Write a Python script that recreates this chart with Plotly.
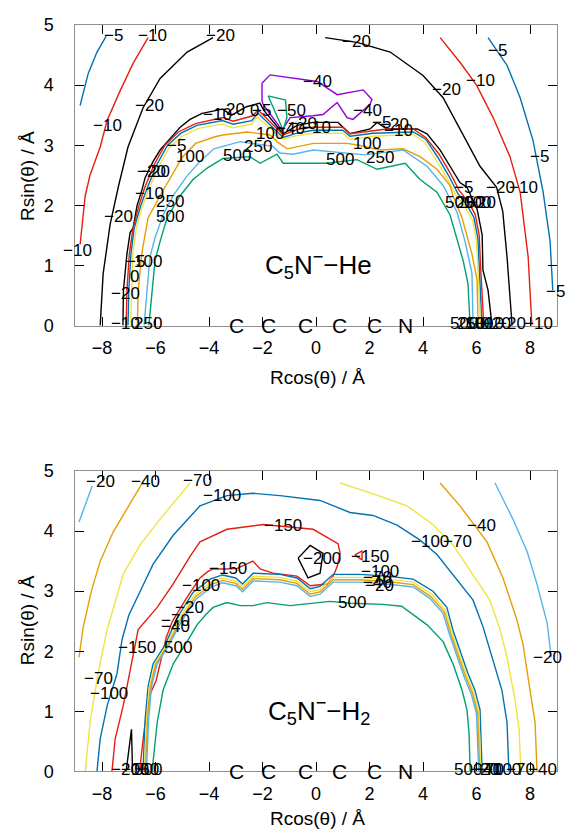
import plotly.graph_objects as go

# ---------------- colours (gnuplot default cycle) ----------------
PURPLE, GREEN, LBLUE, ORANGE = "#9400d3", "#009e73", "#56b4e9", "#e69f00"
YELLOW, BLUE, RED, BLACK = "#f0e442", "#0072b2", "#e51e10", "#000000"

# ---------------- C5N- - He : contour paths (x = Rcos, y = Rsin, Angstrom) ----------------
HE_M5_L = [(-8.82, 3.66), (-8.52, 4.19), (-8.19, 4.55), (-7.85, 4.81)]
HE_M5_R = [(6.43, 4.79), (7.14, 4.33), (7.63, 3.79), (8.11, 3.08), (8.49, 2.22), (8.75, 1.4), (8.85, 0.59)]
HE_M10_L = [(-8.82, 1.35), (-8.63, 2.16), (-8.45, 2.5), (-8.07, 2.97), (-7.81, 3.41), (-7.33, 3.9), (-6.84, 4.36), (-6.28, 4.79)]
HE_M10_R = [(4.64, 4.79), (5.38, 4.38), (6.0, 4.0), (6.62, 3.46), (7.25, 2.81), (7.63, 2.22), (7.93, 1.14), (8.07, 0.0)]
HE_M20_L = [(-8.07, 0.0), (-7.96, 0.86), (-7.7, 1.68), (-7.38, 2.33), (-7.03, 2.97), (-6.47, 3.62), (-5.83, 4.11), (-4.82, 4.55), (-3.85, 4.79)]
HE_M20_R = [(0.34, 4.79), (1.53, 4.71), (2.77, 4.55), (4.0, 4.16), (4.75, 3.79), (5.46, 3.19), (6.13, 2.65), (6.75, 2.3), (6.98, 1.9), (7.14, 1.14), (7.33, 0.0)]
HE_M20_IN = [(-7.22, 0.0), (-7.2, 0.59), (-7.07, 1.19), (-6.95, 1.55), (-6.84, 1.62), (-6.69, 2.0), (-6.5, 2.27),
             (-6.39, 2.46), (-6.09, 2.73), (-5.83, 2.92), (-5.46, 3.11), (-5.08, 3.3), (-4.71, 3.43), (-4.26, 3.53),
             (-3.5, 3.6), (-3.15, 3.5), (-2.6, 3.64), (-2.1, 3.7), (-1.95, 3.58), (-1.23, 3.19), (-0.71, 3.33),
             (-0.11, 3.38), (0.82, 3.38), (1.27, 3.19), (2.02, 3.27), (2.28, 3.38), (2.65, 3.27), (3.78, 3.27),
             (4.15, 3.19), (4.64, 2.92), (5.01, 2.65), (5.38, 2.38), (5.64, 2.3), (6.02, 1.94), (6.21, 1.51),
             (6.24, 0.92), (6.43, 0.59), (6.58, 0.0)]
HE_M10_IN = [(-7.1, 0.0), (-7.07, 0.59), (-6.98, 1.19), (-6.85, 1.6), (-6.62, 2.0), (-6.4, 2.3), (-6.05, 2.68),
             (-5.65, 3.0), (-5.15, 3.22), (-4.5, 3.36), (-3.48, 3.46), (-3.1, 3.4), (-2.36, 3.49), (-2.17, 3.59),
             (-1.23, 3.17), (-0.71, 3.26), (-0.11, 3.3), (1.0, 3.3), (1.27, 3.19), (2.13, 3.24), (2.65, 3.27),
             (3.63, 3.27), (4.1, 3.13), (4.6, 2.85), (5.0, 2.55), (5.35, 2.25), (5.7, 2.05), (5.95, 1.85),
             (6.1, 1.5), (6.15, 1.0), (6.2, 0.5), (6.27, 0.0)]
HE_M5_IN = [(-7.03, 0.0), (-7.0, 0.59), (-6.92, 1.19), (-6.8, 1.62), (-6.55, 2.0), (-6.3, 2.3), (-5.95, 2.68),
            (-5.55, 3.0), (-5.05, 3.2), (-4.45, 3.33), (-3.5, 3.41), (-3.1, 3.35), (-2.4, 3.41), (-2.17, 3.53),
            (-1.23, 3.13), (-0.71, 3.2), (-0.11, 3.25), (1.0, 3.25), (1.27, 3.15), (2.13, 3.2), (3.63, 3.22),
            (4.1, 3.1), (4.55, 2.8), (4.95, 2.5), (5.3, 2.2), (5.65, 2.0), (5.9, 1.8), (6.05, 1.45),
            (6.1, 1.0), (6.15, 0.5), (6.2, 0.0)]
HE_0 = [(-6.93, 0.0), (-6.9, 0.59), (-6.85, 1.19), (-6.72, 1.62), (-6.48, 2.0), (-6.22, 2.3), (-5.88, 2.65),
        (-5.5, 2.95), (-5.0, 3.15), (-4.4, 3.28), (-3.5, 3.35), (-3.1, 3.29), (-2.4, 3.35), (-2.2, 3.47),
        (-1.23, 3.1), (-0.71, 3.16), (-0.11, 3.2), (1.0, 3.2), (1.27, 3.1), (2.13, 3.15), (3.63, 3.18),
        (4.05, 3.05), (4.5, 2.75), (4.9, 2.45), (5.25, 2.15), (5.6, 1.95), (5.85, 1.75), (6.0, 1.4),
        (6.05, 1.0), (6.1, 0.5), (6.15, 0.0)]
HE_100 = [(-6.68, 0.0), (-6.65, 0.59), (-6.5, 1.24), (-6.28, 1.79), (-5.83, 2.16), (-5.46, 2.45), (-5.0, 2.8),
          (-4.5, 3.03), (-3.78, 3.14), (-3.48, 3.17), (-2.58, 3.22), (-1.72, 3.17), (-1.46, 3.06), (-1.08, 2.94),
          (-0.1, 3.03), (1.16, 3.03), (1.6, 3.0), (2.39, 2.92), (3.25, 2.94), (3.89, 2.81), (4.52, 2.6),
          (5.01, 2.33), (5.12, 2.16), (5.46, 1.79), (5.64, 1.51), (5.83, 1.19), (6.02, 0.76), (6.06, 0.0)]
HE_250 = [(-6.43, 0.0), (-6.32, 0.59), (-6.21, 1.14), (-6.02, 1.46), (-5.72, 1.84), (-5.34, 2.16), (-4.82, 2.49),
          (-4.34, 2.73), (-3.82, 2.94), (-2.84, 3.06), (-1.61, 2.98), (-1.35, 2.87), (-0.86, 2.85), (-0.1, 2.92),
          (1.0, 2.88), (1.83, 2.84), (3.25, 2.92), (4.15, 2.65), (4.75, 2.33), (5.27, 1.89), (5.57, 1.4),
          (5.83, 0.87), (5.87, 0.0)]
HE_500 = [(-6.25, 0.0), (-6.13, 0.59), (-6.02, 1.08), (-5.83, 1.4), (-5.57, 1.79), (-5.08, 2.16), (-4.6, 2.43),
          (-4.07, 2.62), (-3.48, 2.78), (-2.47, 2.81), (-2.09, 2.7), (-1.46, 2.85), (-1.23, 2.7), (0.4, 2.7),
          (1.53, 2.76), (2.28, 2.6), (3.33, 2.7), (3.89, 2.43), (4.52, 2.22), (5.01, 1.84), (5.31, 1.4),
          (5.5, 1.08), (5.68, 0.7), (5.76, 0.0)]
HE_M40 = [(-2.02, 4.03), (-1.72, 4.17), (0.04, 4.06), (0.79, 3.84), (1.76, 3.92), (2.09, 3.76), (2.02, 3.68),
          (1.38, 3.43), (1.16, 3.46), (0.79, 3.71), (0.26, 3.51), (-0.11, 3.49), (-0.97, 3.46), (-1.27, 3.25),
          (-1.98, 3.68), (-2.02, 3.74), (-2.02, 4.03)]
HE_M50 = [(-1.79, 3.82), (-1.14, 3.75), (-1.09, 3.46), (-1.23, 3.25), (-1.79, 3.82)]

HE_PATHS = [(HE_M5_L, BLUE), (HE_M5_R, BLUE), (HE_M10_L, RED), (HE_M10_R, RED),
            (HE_M20_L, BLACK), (HE_M20_R, BLACK), (HE_M20_IN, BLACK), (HE_M10_IN, RED),
            (HE_M5_IN, BLUE), (HE_0, YELLOW), (HE_100, ORANGE), (HE_250, LBLUE), (HE_500, GREEN),
            (HE_M40, PURPLE), (HE_M50, GREEN)]

HE_LABELS = [("−5", -7.59, 4.83), ("−10", -6.13, 4.83), ("−20", -3.59, 4.83), ("−20", -6.21, 3.66),
             ("−10", -7.78, 3.33), ("−20", -7.4, 1.81), ("−10", -8.9, 1.25), ("−5", -5.2, 3.0),
             ("100", -4.71, 2.81), ("500", -2.95, 2.83), ("250", -2.17, 2.98), ("100", -1.72, 3.19),
             ("−20", -6.15, 2.56), ("−20", -6.0, 2.56), ("−10", -6.21, 2.19), ("250", -5.46, 2.06),
             ("500", -5.46, 1.81), ("−5", -6.75, 1.06), ("100", -6.3, 1.06), ("0", -6.77, 0.82),
             ("−20", -7.14, 0.54), ("−10", -7.14, 0.03), ("250", -6.28, 0.03),
             ("−10", -3.7, 3.51), ("−20", -3.21, 3.6), ("0", -2.3, 3.58), ("−5", -2.05, 3.58),
             ("−50", -0.9, 3.57), ("−40", 0.07, 4.06), ("−40", 1.94, 3.57), ("−40", -0.97, 3.27),
             ("−20", -0.49, 3.36), ("−10", 0.03, 3.3), ("100", 1.91, 3.03), ("500", 0.9, 2.76),
             ("250", 2.39, 2.8), ("−5", 2.45, 3.38), ("−20", 2.95, 3.35), ("−10", 3.1, 3.25),
             ("−20", 1.53, 4.73), ("−20", 4.89, 3.92), ("−10", 6.13, 4.08), ("−5", 6.8, 4.57),
             ("−5", 8.37, 2.81), ("−5", 5.5, 2.3), ("−20", 6.88, 2.29), ("−10", 7.74, 2.29),
             ("500", 5.35, 2.05), ("250", 5.75, 2.05), ("100", 6.0, 2.05), ("−20", 6.2, 2.05),
             ("−5", 8.95, 0.57), ("500", 5.55, 0.03), ("250", 5.8, 0.03), ("100", 6.1, 0.03),
             ("0", 6.3, 0.03), ("−10", 6.5, 0.03), ("−20", 6.75, 0.03), ("−20", 7.3, 0.03), ("−10", 8.3, 0.03)]

# ---------------- C5N- - H2 : contour paths ----------------
H2_M20_L = [(-8.86, 4.15), (-8.6, 4.48), (-8.37, 4.75)]
H2_M20_R = [(6.69, 4.8), (7.36, 4.2), (7.89, 3.66), (8.26, 3.12), (8.64, 2.47), (8.79, 1.9)]
H2_M40_L = [(-8.86, 1.9), (-8.71, 2.39), (-8.4, 3.0), (-8.07, 3.5), (-7.59, 3.98), (-7.07, 4.36), (-6.47, 4.82)]
H2_M40_R = [(4.64, 4.8), (5.38, 4.42), (6.39, 3.82), (6.99, 3.22), (7.51, 2.52), (7.74, 2.11), (8.0, 1.35),
            (8.19, 0.81), (8.26, 0.0)]
H2_M70_L = [(-8.63, 0.0), (-8.45, 0.81), (-8.15, 1.63), (-7.81, 2.36), (-7.21, 3.28), (-6.58, 3.77),
            (-5.83, 4.2), (-4.71, 4.8)]
H2_M70_R = [(0.9, 4.8), (2.28, 4.6), (3.4, 4.42), (4.37, 4.11), (5.12, 3.77), (5.87, 3.28), (6.5, 2.85),
            (6.88, 2.36), (7.14, 1.9), (7.44, 1.19), (7.59, 0.7), (7.66, 0.0)]
H2_M100 = [(-8.19, 0.0), (-8.07, 0.54), (-7.81, 1.09), (-7.44, 1.63), (-7.25, 2.2), (-7.0, 2.6), (-6.69, 2.89),
           (-6.09, 3.45), (-5.34, 3.93), (-4.34, 4.42), (-3.33, 4.59), (-2.36, 4.63), (-1.35, 4.59), (0.15, 4.51),
           (1.27, 4.31), (2.13, 4.26), (3.03, 4.1), (3.89, 3.85), (4.52, 3.61), (5.12, 3.28), (5.87, 2.85),
           (6.24, 2.41), (6.62, 1.84), (6.95, 1.35), (7.14, 0.81), (7.21, 0.0)]
H2_M150 = [(-7.63, 0.0), (-7.51, 0.54), (-7.21, 1.09), (-6.84, 1.9), (-6.65, 2.36), (-5.94, 2.73), (-5.34, 3.12),
           (-4.71, 3.58), (-4.34, 3.82), (-3.33, 4.03), (-1.98, 4.11), (-0.11, 4.03), (0.41, 3.9), (0.82, 3.79),
           (0.9, 3.63), (0.79, 3.41), (0.64, 3.25), (0.41, 3.12), (-0.22, 3.09), (-0.71, 3.25), (-1.61, 3.3),
           (-2.09, 3.37), (-2.36, 3.5), (-2.95, 3.38), (-3.33, 3.37), (-3.85, 3.37), (-4.04, 3.33), (-4.34, 3.22),
           (-4.85, 2.88), (-5.38, 2.49), (-5.6, 2.23), (-5.8, 1.84), (-5.98, 1.51), (-6.24, 1.25), (-6.42, 0.7),
           (-6.6, 0.0)]
H2_M150_B = [(1.45, 3.6), (1.72, 3.67), (1.72, 3.52), (1.45, 3.6)]
H2_M200 = [(-0.67, 3.55), (-0.22, 3.76), (0.26, 3.63), (0.15, 3.3), (-0.3, 3.22), (-0.67, 3.55)]
H2_M200_B = [(-7.1, 0.0), (-6.9, 0.7), (-6.86, 0.0)]
H2_M100_IN = [(-6.47, 0.0), (-6.39, 0.86), (-6.28, 1.41), (-6.09, 1.79), (-5.64, 2.11), (-5.2, 2.55), (-4.6, 2.98),
              (-3.96, 3.2), (-3.5, 3.27), (-3.0, 3.22), (-2.75, 3.12), (-2.35, 3.3), (-1.35, 3.28), (-0.71, 3.22),
              (-0.22, 3.04), (0.15, 3.08), (0.64, 3.28), (1.64, 3.28), (2.65, 3.25), (3.63, 3.2), (4.37, 3.0),
              (4.89, 2.73), (5.12, 2.35), (5.46, 1.9), (5.68, 1.63), (5.94, 1.35), (6.13, 1.03), (6.21, 0.0)]
H2_M70_IN = [(-6.42, 0.0), (-6.34, 0.86), (-6.23, 1.41), (-6.03, 1.79), (-5.58, 2.11), (-5.14, 2.52), (-4.56, 2.93),
             (-3.94, 3.15), (-3.5, 3.22), (-3.0, 3.17), (-2.75, 3.07), (-2.35, 3.25), (-1.35, 3.23), (-0.71, 3.17),
             (-0.22, 2.99), (0.15, 3.03), (0.64, 3.23), (1.64, 3.23), (2.65, 3.2), (3.63, 3.15), (4.33, 2.95),
             (4.83, 2.69), (5.07, 2.32), (5.41, 1.87), (5.63, 1.6), (5.89, 1.32), (6.08, 1.0), (6.16, 0.0)]
H2_M40_IN = [(-6.38, 0.0), (-6.3, 0.86), (-6.19, 1.41), (-5.98, 1.79), (-5.53, 2.11), (-5.09, 2.5), (-4.52, 2.9),
             (-3.92, 3.11), (-3.5, 3.18), (-3.0, 3.13), (-2.75, 3.03), (-2.35, 3.21), (-1.35, 3.19), (-0.71, 3.13),
             (-0.22, 2.95), (0.15, 2.99), (0.64, 3.19), (1.64, 3.19), (2.65, 3.16), (3.63, 3.11), (4.29, 2.91),
             (4.79, 2.66), (5.03, 2.3), (5.37, 1.85), (5.59, 1.58), (5.85, 1.3), (6.04, 0.98), (6.12, 0.0)]
H2_M20_IN = [(-6.34, 0.0), (-6.26, 0.86), (-6.15, 1.41), (-5.94, 1.79), (-5.49, 2.11), (-5.05, 2.48), (-4.48, 2.87),
             (-3.9, 3.07), (-3.5, 3.14), (-3.0, 3.09), (-2.75, 2.99), (-2.35, 3.17), (-1.35, 3.15), (-0.71, 3.09),
             (-0.22, 2.91), (0.15, 2.95), (0.64, 3.15), (1.64, 3.15), (2.65, 3.12), (3.63, 3.07), (4.25, 2.88),
             (4.75, 2.63), (4.99, 2.28), (5.33, 1.83), (5.55, 1.56), (5.81, 1.28), (6.0, 0.96), (6.08, 0.0)]
H2_500 = [(-6.13, 0.0), (-5.94, 0.81), (-5.72, 1.35), (-5.34, 1.79), (-4.82, 2.16), (-4.45, 2.44), (-4.1, 2.62),
          (-3.85, 2.73), (-3.33, 2.81), (-2.84, 2.76), (-2.36, 2.76), (-1.83, 2.81), (-0.97, 2.76), (-0.22, 2.79),
          (0.52, 2.83), (1.3, 2.8), (2.5, 2.78), (3.2, 2.75), (3.8, 2.55), (4.15, 2.44), (4.75, 2.16),
          (5.12, 1.79), (5.46, 1.35), (5.64, 1.03), (5.72, 0.65), (5.76, 0.0)]

H2_PATHS = [(H2_M20_L, LBLUE), (H2_M20_R, LBLUE), (H2_M40_L, ORANGE), (H2_M40_R, ORANGE),
            (H2_M70_L, YELLOW), (H2_M70_R, YELLOW), (H2_M100, BLUE), (H2_M150, RED), (H2_M150_B, RED),
            (H2_M200, BLACK), (H2_M200_B, BLACK), (H2_M100_IN, BLUE), (H2_M70_IN, YELLOW),
            (H2_M40_IN, ORANGE), (H2_M20_IN, LBLUE), (H2_500, GREEN)]

H2_LABELS = [("−20", -8.07, 4.82), ("−40", -6.39, 4.83), ("−70", -4.45, 4.85), ("−100", -3.52, 4.59),
             ("−150", -1.23, 4.1), ("−100", 4.26, 3.82), ("−70", 5.27, 3.82), ("−40", 6.2, 4.1),
             ("−20", 8.67, 1.9), ("−200", 0.22, 3.54), ("−150", 2.02, 3.58), ("−100", 2.39, 3.33),
             ("−70", 2.28, 3.22), ("−40", 2.3, 3.15), ("−20", 2.39, 3.09), ("500", 1.35, 2.81),
             ("−150", -3.29, 3.37), ("−100", -4.3, 3.09), ("−20", -4.72, 2.73), ("−70", -5.27, 2.52),
             ("−40", -5.27, 2.41), ("−150", -6.69, 2.06), ("500", -5.16, 2.06), ("−70", -8.15, 1.54),
             ("−100", -7.74, 1.3), ("−200", -6.95, 0.03), ("−150", -6.6, 0.03), ("500", -6.3, 0.03),
             ("500", 5.68, 0.03), ("−20", 6.3, 0.03), ("−40", 6.4, 0.03), ("−70", 6.5, 0.03),
             ("−100", 6.95, 0.03), ("−70", 7.63, 0.03), ("−40", 8.45, 0.03)]

# atoms drawn on the molecular axis
ATOM_LABELS = ["C", "C", "C", "C", "C", "N"]
ATOM_X = [-2.99, -1.76, -0.41, 0.86, 2.2, 3.36]

TITLES = ["C<sub>5</sub>N<sup>−</sup>−He", "C<sub>5</sub>N<sup>−</sup>−H<sub>2</sub>"]
X_TICKS = [-8, -6, -4, -2, 0, 2, 4, 6, 8]
Y_TICKS = [0, 1, 2, 3, 4, 5]

FONT = "Liberation Sans, Arial, sans-serif"

fig = go.Figure()
annotations = []

for panel, (paths, labels) in enumerate([(HE_PATHS, HE_LABELS), (H2_PATHS, H2_LABELS)]):
    xr = "x" if panel == 0 else "x2"
    yr = "y" if panel == 0 else "y2"
    for pts, col in paths:
        fig.add_trace(go.Scatter(x=[p[0] for p in pts], y=[p[1] for p in pts], mode="lines",
                                 line=dict(color=col, width=1.4), xaxis=xr, yaxis=yr,
                                 hoverinfo="skip", showlegend=False))
    for txt, lx, ly in labels:
        annotations.append(dict(text=txt, x=lx, y=ly, xref=xr, yref=yr, showarrow=False,
                                xanchor="center", yanchor="middle",
                                font=dict(family=FONT, size=17, color="black")))
    for a, ax in zip(ATOM_LABELS, ATOM_X):
        annotations.append(dict(text=a, x=ax, y=0, xref=xr, yref=yr, showarrow=False,
                                xanchor="center", yanchor="middle",
                                font=dict(family=FONT, size=21, color="black")))
    annotations.append(dict(text=TITLES[panel], x=0.1, y=1.0, xref=xr, yref=yr, showarrow=False,
                            xanchor="center", yanchor="middle",
                            font=dict(family=FONT, size=26, color="black")))

# axis titles
for yc in (0.797, 0.254):
    annotations.append(dict(text="Rsin(θ) / Å", x=0.047, y=yc, xref="paper", yref="paper", showarrow=False,
                            xanchor="center", yanchor="middle", textangle=-90,
                            font=dict(family=FONT, size=19, color="black")))
for yc in (0.5513, 0.0119):
    annotations.append(dict(text="Rcos(θ) / Å", x=0.554, y=yc, xref="paper", yref="paper", showarrow=False,
                            xanchor="center", yanchor="middle",
                            font=dict(family=FONT, size=19, color="black")))

axis_common = dict(showgrid=False, zeroline=False, showline=True, linecolor="#909090", linewidth=1,
                   mirror="ticks", ticks="inside", tickcolor="black", ticklen=9, tickwidth=1,
                   tickfont=dict(family=FONT, size=18, color="black"))
XD = [0.1312, 0.970]
fig.update_layout(
    width=574, height=838, margin=dict(l=0, r=0, t=0, b=0),
    paper_bgcolor="white", plot_bgcolor="white", showlegend=False,
    xaxis=dict(domain=XD, range=[-9, 9], tickvals=X_TICKS, anchor="y", ticklabelstandoff=6, **axis_common),
    yaxis=dict(domain=[0.6142, 0.9817], range=[0, 5], tickvals=Y_TICKS, anchor="x", ticklabelstandoff=17, **axis_common),
    xaxis2=dict(domain=XD, range=[-9, 9], tickvals=X_TICKS, anchor="y2", ticklabelstandoff=6, **axis_common),
    yaxis2=dict(domain=[0.0692, 0.4364], range=[0, 5], tickvals=Y_TICKS, anchor="x2", ticklabelstandoff=17, **axis_common),
    annotations=annotations,
)

fig.write_html("out.html")
